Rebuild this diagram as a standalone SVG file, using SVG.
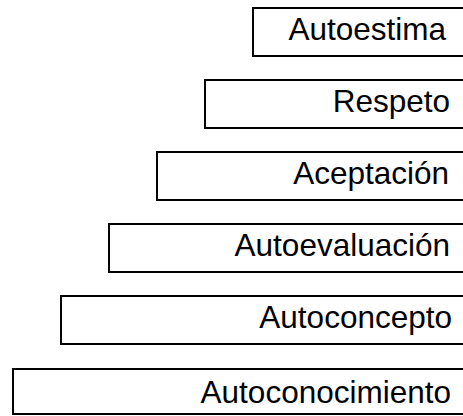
<svg xmlns="http://www.w3.org/2000/svg" width="463" height="416" viewBox="0 0 463 416">
<style>
.box{fill:#fff;stroke:#000;stroke-width:2}
.lbl{font-family:"Liberation Sans",Arial,sans-serif;font-size:31.5px;fill:#000;text-anchor:end}
</style>
<rect width="463" height="416" fill="#fff"/>
<g id="autoestima"><rect class="box" x="253" y="8" width="220" height="48"/><text class="lbl" x="446" y="40">Autoestima</text></g>
<g id="respeto"><rect class="box" x="205" y="80" width="268" height="48"/><text class="lbl" x="450" y="112">Respeto</text></g>
<g id="aceptacion"><rect class="box" x="157" y="152" width="316" height="48"/><text class="lbl" x="449" y="184">Aceptación</text></g>
<g id="autoevaluacion"><rect class="box" x="109" y="224" width="364" height="48"/><text class="lbl" x="450" y="256">Autoevaluación</text></g>
<g id="autoconcepto"><rect class="box" x="61" y="296" width="412" height="48"/><text class="lbl" x="452" y="328">Autoconcepto</text></g>
<g id="autoconocimiento"><rect class="box" x="13" y="369" width="460" height="45"/><text class="lbl" x="451" y="403">Autoconocimiento</text></g>
<g id="connectors"/>
</svg>
